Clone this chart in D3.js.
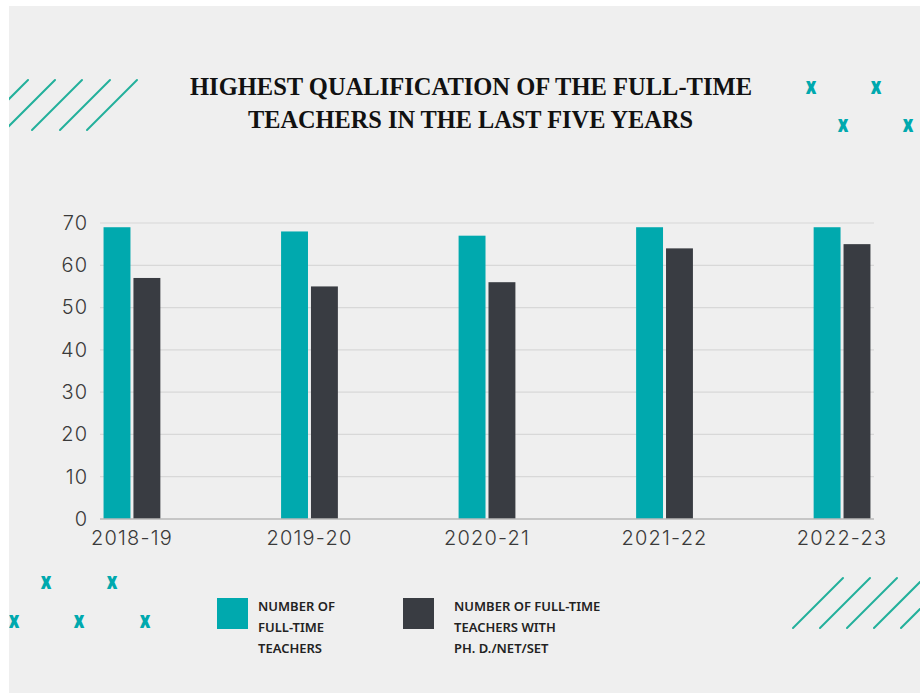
<!DOCTYPE html>
<html>
<head>
<meta charset="utf-8">
<script src="https://cdn.jsdelivr.net/npm/d3@7"></script>
<style>
  body { margin: 0; background: #fff; }
  svg { display: block; }
</style>
</head>
<body>
<div id="chart"></div>
<script>
// data
var years = ['2018-19', '2019-20', '2020-21', '2021-22', '2022-23']
var fullTime = [69, 68, 67, 69, 69]
var phdNetSet = [57, 55, 56, 64, 65]
var yTicks = [0, 10, 20, 30, 40, 50, 60, 70]
var seriesKeys = ['full', 'phd']
var legendLabels = [
  ['NUMBER OF', 'FULL-TIME', 'TEACHERS'],
  ['NUMBER OF FULL-TIME', 'TEACHERS WITH', 'PH. D./NET/SET']
]

var width = 920, height = 693
var teal = '#00a9ae', dark = '#393c42', stripe = '#22b09b'

var svg = d3.select('#chart').append('svg')
  .attr('width', width)
  .attr('height', height)

// background panel
svg.append('rect')
  .attr('x', 9).attr('y', 6)
  .attr('width', width - 9).attr('height', height - 6)
  .attr('fill', '#efefef')

svg.append('clipPath').attr('id', 'panel')
  .append('rect')
  .attr('x', 9).attr('y', 6)
  .attr('width', width - 9).attr('height', height - 6)

// decorative stripes
var deco = svg.append('g').attr('clip-path', 'url(#panel)')
function stripes(tops, y0, y1) {
  deco.selectAll(null)
    .data(tops)
    .enter().append('line')
      .attr('x1', function (d) { return d })
      .attr('y1', y0)
      .attr('x2', function (d) { return d - 50 })
      .attr('y2', y1)
      .attr('stroke', stripe)
      .attr('stroke-width', 2)
      .attr('stroke-linecap', 'round')
}
stripes([28, 55, 82, 110, 137], 80, 130)
stripes([843, 870, 897, 924, 951], 578, 628)

// decorative x marks
var marks = [[811, 87], [876, 87], [843, 125], [908, 125],
             [46, 582], [112, 582], [14, 621], [79, 621], [145, 621]]
deco.selectAll('text.mark')
  .data(marks)
  .enter().append('text')
    .attr('class', 'mark')
    .attr('x', function (d) { return d[0] })
    .attr('y', function (d) { return d[1] + 7 })
    .attr('text-anchor', 'middle')
    .attr('font-family', 'Roboto, sans-serif')
    .attr('font-weight', 900)
    .attr('font-size', 24)
    .attr('transform', function (d) { return 'translate(' + d[0] + ',0) scale(0.85,1) translate(' + (-d[0]) + ',0)' })
    .attr('fill', teal)
    .text('x')

// title
var title = svg.append('g')
  .attr('font-family', '"Liberation Serif", serif')
  .attr('font-weight', 'bold')
  .attr('font-size', 26)
  .attr('fill', '#111')
title.append('text')
  .attr('x', 190).attr('y', 95)
  .attr('textLength', 562).attr('lengthAdjust', 'spacingAndGlyphs')
  .text('HIGHEST QUALIFICATION OF THE FULL-TIME')
title.append('text')
  .attr('x', 248).attr('y', 128)
  .attr('textLength', 445).attr('lengthAdjust', 'spacingAndGlyphs')
  .text('TEACHERS IN THE LAST FIVE YEARS')

// scales
var x0 = d3.scaleBand()
  .domain(years)
  .range([100, 874])
  .paddingInner(0.68)
  .paddingOuter(0.02)
var x1 = d3.scaleBand()
  .domain(seriesKeys)
  .range([0, x0.bandwidth()])
  .paddingInner(0.1)
var y = d3.scaleLinear()
  .domain([0, 70])
  .range([519, 223])
var colour = d3.scaleOrdinal().domain(seriesKeys).range([teal, dark])

// gridlines
svg.append('g')
  .selectAll('line')
  .data(yTicks.slice(1))
  .enter().append('line')
    .attr('x1', 100).attr('x2', 874)
    .attr('y1', function (d) { return y(d) })
    .attr('y2', function (d) { return y(d) })
    .attr('stroke', '#d8d8d8')
    .attr('stroke-width', 1.2)

// y axis
var yAxis = svg.append('g')
  .attr('transform', 'translate(90,0)')
  .call(d3.axisLeft(y).tickValues(yTicks).tickSize(0).tickPadding(2))
yAxis.select('.domain').remove()
yAxis.selectAll('text')
  .attr('font-family', 'Inter, "Noto Sans", sans-serif')
  .attr('font-size', 20)
  .attr('font-weight', 300)
  .attr('letter-spacing', 1)
  .attr('fill', '#3a3a3a')

// bars
var rows = years.map(function (yr, i) {
  return { year: yr, full: fullTime[i], phd: phdNetSet[i] }
})
svg.append('g')
  .selectAll('g')
  .data(rows)
  .enter().append('g')
    .attr('transform', function (d) { return 'translate(' + x0(d.year) + ',0)' })
  .selectAll('rect')
  .data(function (d) { return seriesKeys.map(function (k) { return { key: k, value: d[k] } }) })
  .enter().append('rect')
    .attr('x', function (d) { return x1(d.key) })
    .attr('y', function (d) { return y(d.value) })
    .attr('width', x1.bandwidth())
    .attr('height', function (d) { return y(0) - y(d.value) })
    .attr('fill', function (d) { return colour(d.key) })

// x axis
var xAxis = svg.append('g')
  .attr('transform', 'translate(0,519)')
  .call(d3.axisBottom(x0).tickSize(0).tickPadding(12))
xAxis.select('.domain')
  .attr('d', 'M100,0H874')
  .attr('stroke', '#b8b8b8')
  .attr('stroke-width', 1.5)
xAxis.selectAll('text')
  .attr('font-family', 'Inter, "Noto Sans", sans-serif')
  .attr('font-size', 20)
  .attr('font-weight', 300)
  .attr('letter-spacing', 1.2)
  .attr('fill', '#3a3a3a')

// legend
var legendX = [217, 403]
var legend = svg.append('g')
  .selectAll('g')
  .data(seriesKeys)
  .enter().append('g')
    .attr('transform', function (d, i) { return 'translate(' + legendX[i] + ',598)' })
legend.append('rect')
  .attr('width', 31).attr('height', 31)
  .attr('fill', function (d) { return colour(d) })
legend.append('text')
  .attr('font-family', '"Noto Sans", sans-serif')
  .attr('font-weight', 600)
  .attr('font-size', 13)
  .attr('fill', '#222')
  .selectAll('tspan')
  .data(function (d, i) { return legendLabels[i] })
  .enter().append('tspan')
    .attr('x', function () { return this.parentNode.__data__ == 'full' ? 41 : 51 })
    .attr('y', function (d, j) { return 13 + j * 21 })
    .text(function (d) { return d })
</script>
</body>
</html>
